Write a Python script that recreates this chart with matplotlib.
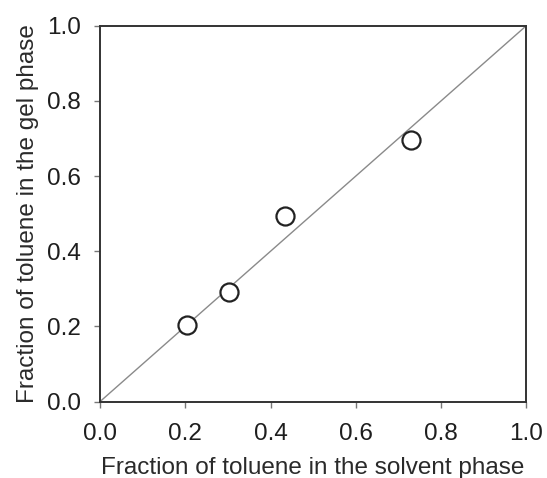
import numpy as np
import matplotlib
matplotlib.use('Agg')
import matplotlib.pyplot as plt

plt.rcParams['font.family'] = ['Liberation Sans', 'DejaVu Sans']

# toluene fraction: solvent phase vs gel phase
solvent_frac = [0.204, 0.302, 0.434, 0.729]
gel_frac = [0.204, 0.292, 0.493, 0.695]
ticks = [0.0, 0.2, 0.4, 0.6, 0.8, 1.0]

fig = plt.figure(figsize=(5.47, 4.78), dpi=100)
ax = fig.add_axes([0.183, 0.160, 0.779, 0.786])

# 1:1 reference line
ax.plot([0, 1], [0, 1], '-', color='#8a8a8a', lw=1.0, zorder=1)
ax.plot(solvent_frac, gel_frac, 'o', ms=13, mfc='white', mec='#222222',
        mew=1.6, zorder=2)

ax.set_xlim(0, 1)
ax.set_ylim(0, 1)
ax.set_xticks(ticks)
ax.set_yticks(ticks)
ax.set_xticklabels(['%.1f' % t for t in ticks])
ax.set_yticklabels(['%.1f' % t for t in ticks])
ax.tick_params(direction='out', length=4.3, width=1, color='#777777',
               labelsize=17.5, labelcolor='#1e1e1e')
ax.tick_params(axis='x', pad=11)
ax.tick_params(axis='y', pad=9.5)
for s in ax.spines.values():
    s.set_color('#333333')
    s.set_linewidth(1.4)

ax.set_xlabel('Fraction of toluene in the solvent phase', fontsize=17.5,
              color='#2a2a2a', labelpad=8.5)
ax.set_ylabel('Fraction of toluene in the gel phase', fontsize=17.5,
              color='#2a2a2a', labelpad=6)

fig.savefig('out.png', dpi=100)
